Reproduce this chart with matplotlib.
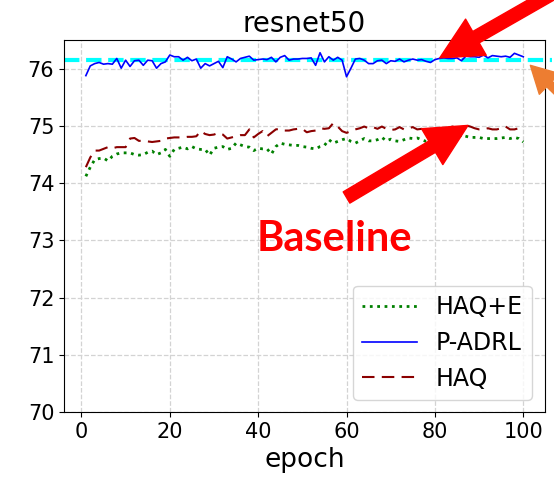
import matplotlib
matplotlib.use("Agg")
import matplotlib.pyplot as plt

# accuracy per epoch
epochs = list(range(1, 101))

haq_e = [74.12, 74.28, 74.41, 74.43, 74.44, 74.39, 74.47, 74.51, 74.53, 74.53,
         74.53, 74.50, 74.49, 74.50, 74.54, 74.56, 74.50, 74.53, 74.59, 74.47,
         74.59, 74.61, 74.63, 74.60, 74.64, 74.60, 74.59, 74.59, 74.49, 74.61,
         74.63, 74.64, 74.59, 74.61, 74.70, 74.67, 74.64, 74.63, 74.57, 74.61,
         74.60, 74.60, 74.51, 74.64, 74.70, 74.68, 74.67, 74.66, 74.66, 74.64,
         74.63, 74.61, 74.60, 74.64, 74.66, 74.76, 74.70, 74.73, 74.76, 74.78,
         74.73, 74.70, 74.74, 74.78, 74.74, 74.74, 74.76, 74.80, 74.74, 74.77,
         74.74, 74.73, 74.76, 74.79, 74.78, 74.79, 74.76, 74.73, 74.74, 74.76,
         74.78, 74.77, 74.79, 74.76, 74.78, 74.84, 74.82, 74.80, 74.80, 74.80,
         74.78, 74.78, 74.78, 74.78, 74.79, 74.80, 74.78, 74.80, 74.78, 74.72]

p_adrl = [75.88, 76.05, 76.09, 76.11, 76.08, 76.09, 76.08, 76.18, 76.01, 76.15,
          76.04, 76.14, 76.15, 76.06, 76.15, 76.14, 76.01, 76.09, 76.12, 76.24,
          76.21, 76.21, 76.15, 76.20, 76.14, 76.17, 76.01, 76.09, 76.05, 76.09,
          76.13, 76.02, 76.21, 76.17, 76.12, 76.18, 76.20, 76.22, 76.15, 76.16,
          76.17, 76.16, 76.20, 76.12, 76.20, 76.23, 76.15, 76.17, 76.17, 76.18,
          76.18, 76.19, 76.06, 76.28, 76.12, 76.21, 76.15, 76.20, 76.15, 75.86,
          76.01, 76.17, 76.18, 76.15, 76.09, 76.09, 76.14, 76.15, 76.09, 76.14,
          76.13, 76.17, 76.12, 76.15, 76.17, 76.15, 76.16, 76.13, 76.11, 76.16,
          76.18, 76.19, 76.18, 76.18, 76.19, 76.14, 76.22, 76.21, 76.21, 76.20,
          76.24, 76.19, 76.23, 76.22, 76.21, 76.22, 76.20, 76.27, 76.24, 76.21]

haq = [74.28, 74.45, 74.57, 74.57, 74.60, 74.63, 74.61, 74.63, 74.63, 74.63,
       74.78, 74.79, 74.74, 74.74, 74.73, 74.72, 74.73, 74.74, 74.78, 74.79,
       74.80, 74.80, 74.80, 74.81, 74.81, 74.82, 74.91, 74.86, 74.84, 74.85,
       74.88, 74.85, 74.78, 74.80, 74.82, 74.84, 74.84, 74.94, 74.80, 74.86,
       74.91, 74.82, 74.88, 74.94, 74.95, 74.92, 74.92, 74.94, 74.95, 74.95,
       74.89, 74.91, 74.92, 74.96, 74.95, 74.96, 75.05, 74.99, 74.91, 74.88,
       74.91, 74.94, 74.96, 74.99, 74.96, 74.98, 74.95, 74.99, 74.95, 74.93,
       74.94, 74.98, 74.94, 74.96, 74.98, 74.94, 74.95, 74.92, 74.95, 74.94,
       74.96, 74.95, 74.97, 74.99, 74.96, 74.98, 75.01, 74.99, 74.96, 74.94,
       74.94, 74.96, 74.94, 74.94, 74.96, 74.99, 74.94, 74.94, 74.96, 74.98]

baseline_acc = 76.15
x_ticks = [0, 20, 40, 60, 80, 100]
y_ticks = [70, 71, 72, 73, 74, 75, 76]


fig = plt.figure(figsize=(5.54, 4.78), dpi=100)
ax = fig.add_axes([0.1155, 0.138, 0.8685, 0.778])

ax.plot(epochs, haq_e, linestyle=":", color="green", linewidth=2, label="HAQ+E")
ax.plot(epochs, p_adrl, linestyle="-", color="blue", linewidth=1.2, label="P-ADRL")
ax.plot(epochs, haq, linestyle="--", dashes=(6, 3.5), color="darkred",
        linewidth=1.5, label="HAQ")

# full precision baseline, runs a bit past the right spine
ax.plot([-3.95, 106.5], [baseline_acc, baseline_acc], linestyle="--",
        color="cyan", linewidth=3, clip_on=False, zorder=1)

ax.set_xlim(-3.95, 104.95)
ax.set_ylim(70, 76.5)
ax.set_xticks(x_ticks)
ax.set_yticks(y_ticks)
ax.tick_params(labelsize=15)
ax.grid(True, linestyle="--", color="#d3d3d3", linewidth=0.9)
ax.set_title("resnet50", fontsize=20)
ax.set_xlabel("epoch", fontsize=19)

ax.legend(loc="lower right", bbox_to_anchor=(0.973, 0.032), borderaxespad=0,
          fontsize=17, handlelength=2.3)

# annotations pasted over the plot
big_arrow = "simple,head_length=1.5,head_width=1.5,tail_width=0.47"
ax.annotate("", xy=(81.1, 76.19), xytext=(108.5, 77.4),
            arrowprops=dict(arrowstyle=big_arrow, color="red", mutation_scale=20,
                            shrinkA=0, shrinkB=0),
            annotation_clip=False)
ax.annotate("", xy=(87.5, 75.01), xytext=(60.0, 73.75),
            arrowprops=dict(arrowstyle=big_arrow, color="red", mutation_scale=20,
                            shrinkA=0, shrinkB=0),
            annotation_clip=False)
ax.annotate("", xy=(101.6, 76.06), xytext=(113.0, 75.2),
            arrowprops=dict(arrowstyle="simple,head_length=1.2,head_width=1.3,tail_width=0.35",
                            color="#ED7D31", mutation_scale=16, shrinkA=0, shrinkB=0),
            annotation_clip=False)

ax.text(57.2, 72.82, "Baseline", color="red", fontsize=30, fontweight="bold",
        family=["Lato", "DejaVu Sans"], ha="center", va="baseline")

fig.savefig("out.png", dpi=100)
